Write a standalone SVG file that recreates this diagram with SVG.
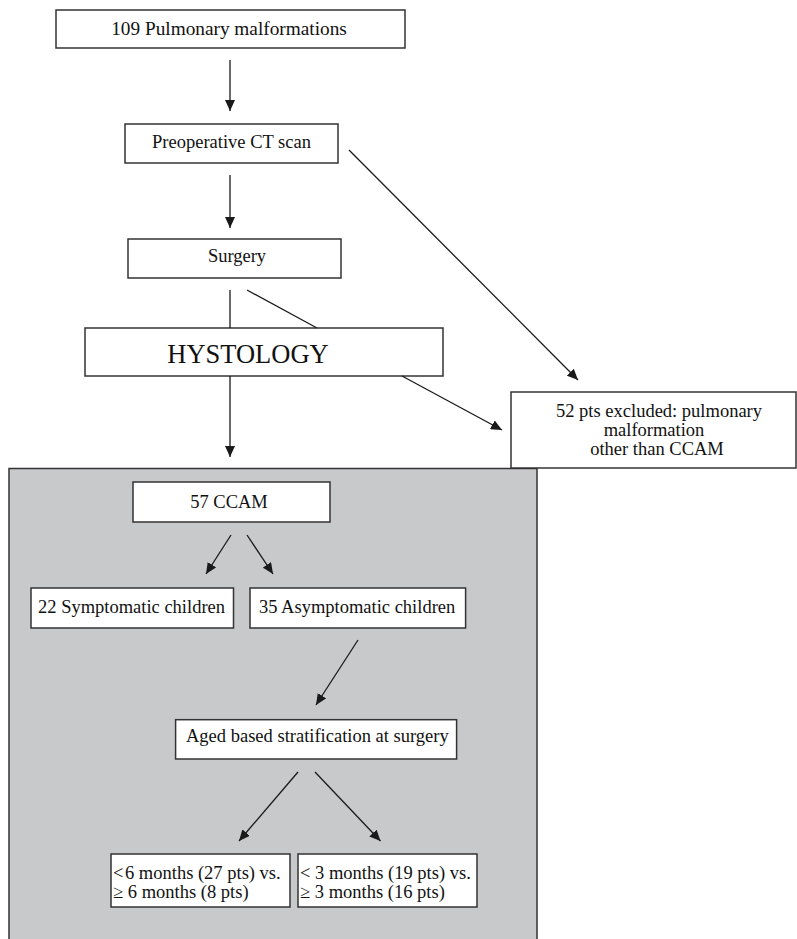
<svg xmlns="http://www.w3.org/2000/svg" width="797" height="939" viewBox="0 0 797 939">
<defs>
<marker id="ah" viewBox="0 0 11 10" markerWidth="11" markerHeight="10" refX="11" refY="5" orient="auto" markerUnits="userSpaceOnUse">
<path d="M0,0 L11,5 L0,10 z" fill="#1a1a1a"/>
</marker>
<style>
.box{fill:#fff;stroke:#333;stroke-width:1.5}
.t{font-family:"Liberation Serif","Times New Roman",serif;font-size:18.5px;fill:#111}
.c{text-anchor:middle}
.ln{stroke:#1a1a1a;stroke-width:1.3;fill:none}
.ar{marker-end:url(#ah)}
</style>
</defs>
<rect width="797" height="939" fill="#fff"/>
<g id="region">
<rect x="9" y="468.5" width="528" height="480" fill="#c8c9cb" stroke="#333" stroke-width="1.5"/>
</g>
<g id="n1"><rect class="box" x="56" y="10" width="349" height="38"/><text class="t c" x="229" y="34.5" style="font-size:19.3px">109 Pulmonary malformations</text></g>
<g id="n2"><rect class="box" x="125" y="124" width="213" height="39"/><text class="t c" x="231.5" y="148">Preoperative CT scan</text></g>
<g id="n3"><rect class="box" x="128" y="239" width="213" height="39"/><text class="t c" x="237" y="262">Surgery</text></g>
<g id="n4"><rect class="box" x="85" y="328" width="358" height="48"/><text class="t c" x="248" y="363" style="font-size:26.5px">HYSTOLOGY</text></g>
<g id="n5"><rect class="box" x="511" y="392" width="285" height="76"/>
<text class="t c" x="659" y="417">52 pts excluded: pulmonary</text>
<text class="t c" x="654" y="436">malformation</text>
<text class="t c" x="657" y="455">other than CCAM</text></g>
<g id="n6"><rect class="box" x="133" y="482" width="197" height="40"/><text class="t c" x="229" y="508">57 CCAM</text></g>
<g id="n7"><rect class="box" x="31" y="588" width="202.5" height="40"/><text class="t" x="38" y="613">22 Symptomatic children</text></g>
<g id="n8"><rect class="box" x="250" y="588" width="215.6" height="40"/><text class="t" x="259" y="613">35 Asymptomatic children</text></g>
<g id="n9"><rect class="box" x="175.6" y="719.7" width="281" height="39.3"/><text class="t" x="186" y="742">Aged based stratification at surgery</text></g>
<g id="n10"><rect class="box" x="111" y="854" width="179" height="53"/>
<text class="t" x="113" y="879">&lt;&#8202;6 months (27 pts) vs.</text>
<text class="t" x="113" y="898">≥ 6 months (8 pts)</text></g>
<g id="n11"><rect class="box" x="298" y="854" width="179" height="53"/>
<text class="t" x="300" y="879">&lt; 3 months (19 pts) vs.</text>
<text class="t" x="300" y="898">≥ 3 months (16 pts)</text></g>
<g id="connectors">
<line class="ln ar" x1="230" y1="60" x2="230" y2="111"/>
<line class="ln ar" x1="230" y1="175" x2="230" y2="228"/>
<line class="ln ar" x1="349" y1="150" x2="578" y2="380"/>
<line class="ln" x1="230" y1="290" x2="230" y2="328"/>
<line class="ln" x1="247" y1="290" x2="317" y2="328"/>
<line class="ln ar" x1="230" y1="376" x2="230" y2="457"/>
<line class="ln ar" x1="402" y1="376" x2="502" y2="430"/>
<line class="ln ar" x1="231" y1="535" x2="206" y2="574"/>
<line class="ln ar" x1="247" y1="535" x2="273" y2="574"/>
<line class="ln ar" x1="358" y1="640" x2="316" y2="705"/>
<line class="ln ar" x1="298" y1="772" x2="239" y2="841"/>
<line class="ln ar" x1="315" y1="772" x2="380.5" y2="841"/>
</g>
</svg>
